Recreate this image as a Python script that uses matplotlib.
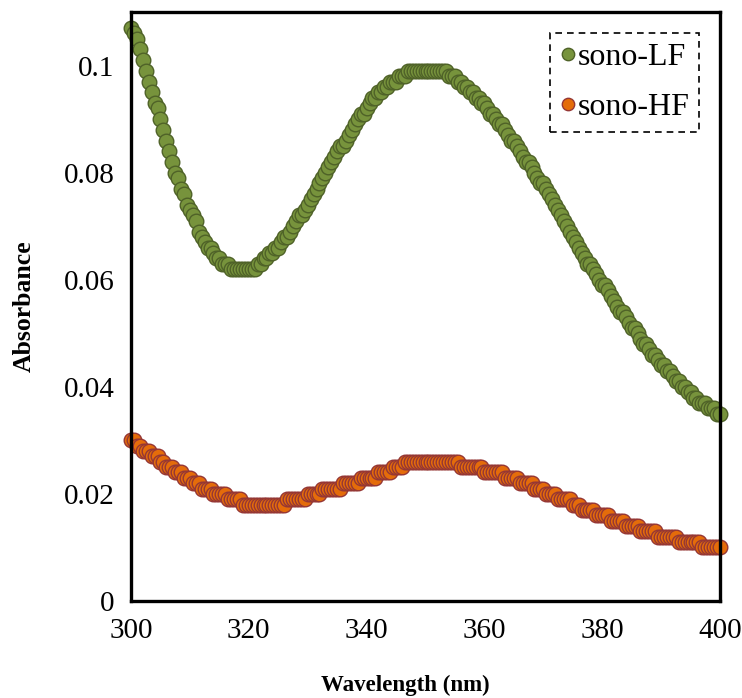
import numpy as np
import matplotlib
matplotlib.use("Agg")
from matplotlib import pyplot as plt

plt.rcParams['font.family'] = ['Liberation Serif', 'DejaVu Serif']

# wavelength grid, 0.5 nm steps
wavelength = np.arange(300, 400.5, 0.5)

# sono-LF absorbance, one row per 5 nm
sono_lf = [
    0.107, 0.106, 0.105, 0.103, 0.101, 0.099, 0.097, 0.095, 0.093, 0.092,
    0.090, 0.088, 0.086, 0.084, 0.082, 0.080, 0.079, 0.077, 0.076, 0.074,
    0.073, 0.072, 0.071, 0.069, 0.068, 0.067, 0.066, 0.066, 0.065, 0.064,
    0.064, 0.063, 0.063, 0.063, 0.062, 0.062, 0.062, 0.062, 0.062, 0.062,
    0.062, 0.062, 0.062, 0.063, 0.063, 0.064, 0.064, 0.065, 0.065, 0.066,
    0.066, 0.067, 0.068, 0.068, 0.069, 0.070, 0.071, 0.072, 0.072, 0.073,
    0.074, 0.075, 0.076, 0.077, 0.078, 0.079, 0.080, 0.081, 0.082, 0.083,
    0.084, 0.085, 0.085, 0.086, 0.087, 0.088, 0.089, 0.090, 0.091, 0.091,
    0.092, 0.093, 0.094, 0.094, 0.095, 0.095, 0.096, 0.096, 0.097, 0.097,
    0.097, 0.098, 0.098, 0.098, 0.099, 0.099, 0.099, 0.099, 0.099, 0.099,
    0.099, 0.099, 0.099, 0.099, 0.099, 0.099, 0.099, 0.099, 0.098, 0.098,
    0.098, 0.097, 0.097, 0.096, 0.096, 0.095, 0.095, 0.094, 0.094, 0.093,
    0.093, 0.092, 0.091, 0.091, 0.090, 0.089, 0.089, 0.088, 0.087, 0.086,
    0.086, 0.085, 0.084, 0.083, 0.082, 0.082, 0.081, 0.080, 0.079, 0.078,
    0.078, 0.077, 0.076, 0.075, 0.074, 0.073, 0.072, 0.071, 0.070, 0.069,
    0.068, 0.067, 0.066, 0.065, 0.064, 0.063, 0.063, 0.062, 0.061, 0.060,
    0.059, 0.059, 0.058, 0.057, 0.056, 0.055, 0.054, 0.054, 0.053, 0.052,
    0.051, 0.051, 0.050, 0.049, 0.048, 0.048, 0.047, 0.046, 0.046, 0.045,
    0.044, 0.044, 0.043, 0.043, 0.042, 0.041, 0.041, 0.040, 0.040, 0.039,
    0.039, 0.038, 0.038, 0.037, 0.037, 0.037, 0.036, 0.036, 0.036, 0.035,
    0.035,
]

# sono-HF absorbance
sono_hf = [
    0.030, 0.030, 0.029, 0.029, 0.028, 0.028, 0.028, 0.027, 0.027, 0.027,
    0.026, 0.026, 0.025, 0.025, 0.025, 0.024, 0.024, 0.024, 0.023, 0.023,
    0.023, 0.022, 0.022, 0.022, 0.021, 0.021, 0.021, 0.021, 0.020, 0.020,
    0.020, 0.020, 0.020, 0.019, 0.019, 0.019, 0.019, 0.019, 0.018, 0.018,
    0.018, 0.018, 0.018, 0.018, 0.018, 0.018, 0.018, 0.018, 0.018, 0.018,
    0.018, 0.018, 0.018, 0.019, 0.019, 0.019, 0.019, 0.019, 0.019, 0.019,
    0.020, 0.020, 0.020, 0.020, 0.020, 0.021, 0.021, 0.021, 0.021, 0.021,
    0.021, 0.021, 0.022, 0.022, 0.022, 0.022, 0.022, 0.022, 0.023, 0.023,
    0.023, 0.023, 0.023, 0.023, 0.024, 0.024, 0.024, 0.024, 0.024, 0.025,
    0.025, 0.025, 0.025, 0.026, 0.026, 0.026, 0.026, 0.026, 0.026, 0.026,
    0.026, 0.026, 0.026, 0.026, 0.026, 0.026, 0.026, 0.026, 0.026, 0.026,
    0.026, 0.026, 0.025, 0.025, 0.025, 0.025, 0.025, 0.025, 0.025, 0.025,
    0.024, 0.024, 0.024, 0.024, 0.024, 0.024, 0.024, 0.023, 0.023, 0.023,
    0.023, 0.023, 0.022, 0.022, 0.022, 0.022, 0.022, 0.021, 0.021, 0.021,
    0.021, 0.020, 0.020, 0.020, 0.020, 0.019, 0.019, 0.019, 0.019, 0.019,
    0.018, 0.018, 0.018, 0.017, 0.017, 0.017, 0.017, 0.017, 0.016, 0.016,
    0.016, 0.016, 0.016, 0.015, 0.015, 0.015, 0.015, 0.015, 0.014, 0.014,
    0.014, 0.014, 0.014, 0.013, 0.013, 0.013, 0.013, 0.013, 0.013, 0.012,
    0.012, 0.012, 0.012, 0.012, 0.012, 0.012, 0.011, 0.011, 0.011, 0.011,
    0.011, 0.011, 0.011, 0.011, 0.010, 0.010, 0.010, 0.010, 0.010, 0.010,
    0.010,
]

xticks = [300, 320, 340, 360, 380, 400]
yticks = [0, 0.02, 0.04, 0.06, 0.08, 0.1]
ytick_labels = ['0', '0.02', '0.04', '0.06', '0.08', '0.1']

fig = plt.figure(figsize=(7.42, 6.98), dpi=100)
ax = fig.add_axes([131 / 742, 97 / 698, 589 / 742, 589 / 698])

ax.plot(wavelength, sono_lf, linestyle='none', marker='o', markersize=10.5,
        markerfacecolor='#77933C', markeredgecolor='#4F6228', markeredgewidth=1,
        label='sono-LF', clip_on=False)
ax.plot(wavelength, sono_hf, linestyle='none', marker='o', markersize=10.5,
        markerfacecolor='#E46C0A', markeredgecolor='#953735', markeredgewidth=1,
        label='sono-HF', clip_on=False)

ax.set_xlim(300, 400)
ax.set_ylim(0, 0.11)
ax.set_xticks(xticks)
ax.set_yticks(yticks)
ax.set_yticklabels(ytick_labels)
ax.tick_params(length=0, labelsize=21)
ax.tick_params(axis='y', pad=12)
ax.tick_params(axis='x', pad=12)

for s in ax.spines.values():
    s.set_linewidth(2.4)
    s.set_color('black')

ax.set_xlabel('Wavelength (nm)', fontsize=16.5, fontweight='bold')
ax.xaxis.set_label_coords(0.465, -0.125)
ax.set_ylabel('Absorbance', fontsize=18.5, fontweight='bold', labelpad=20)

leg = ax.legend(loc='upper right', bbox_to_anchor=(0.964, 0.964), borderaxespad=0,
                fontsize=23, markerscale=0.85, handletextpad=0.05, handlelength=0.5,
                labelspacing=0.65, borderpad=0.3, fancybox=False, framealpha=1)
frame = leg.get_frame()
frame.set_edgecolor('black')
frame.set_linestyle((0, (4, 3)))
frame.set_linewidth(1.2)

fig.savefig('out.png', dpi=100)
